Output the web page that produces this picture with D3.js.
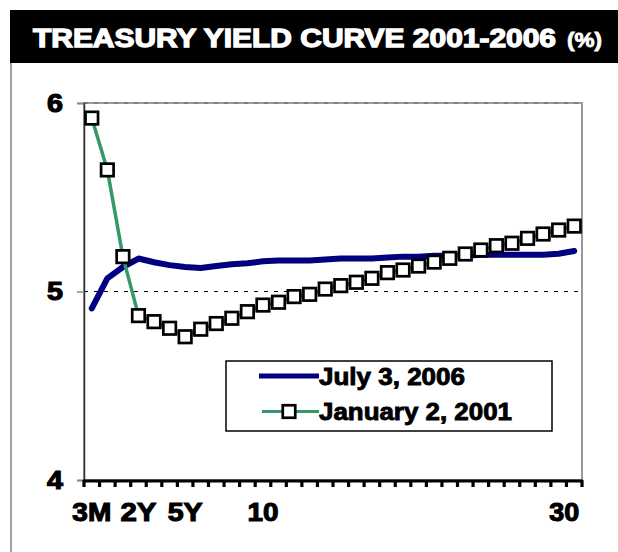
<!DOCTYPE html>
<html>
<head>
<meta charset="utf-8">
<script src="https://cdn.jsdelivr.net/npm/d3@7"></script>
<style>
  html, body { margin: 0; padding: 0; background: #fff; }
  svg { display: block; }
  text { font-family: "Liberation Sans", Arial, sans-serif; font-weight: bold; }
</style>
</head>
<body>
<svg id="chart" width="618" height="552"></svg>
<script>
// ---- data ----
const categories = ["3M","6M","1Y","2Y","3Y","4Y","5Y","6","7","8","9","10","11","12","13","14","15","16","17","18","19","20","21","22","23","24","25","26","27","28","29","30"];
const july2006 = [4.91,5.07,5.13,5.175,5.155,5.14,5.13,5.125,5.135,5.145,5.15,5.16,5.165,5.165,5.165,5.17,5.175,5.175,5.175,5.18,5.185,5.185,5.19,5.19,5.19,5.195,5.195,5.195,5.195,5.195,5.20,5.215];
const jan2001 = [5.92,5.645,5.185,4.872,4.84,4.805,4.76,4.80,4.83,4.858,4.893,4.928,4.943,4.973,4.985,5.013,5.031,5.049,5.07,5.10,5.114,5.135,5.156,5.176,5.199,5.22,5.243,5.256,5.282,5.305,5.326,5.347];
const xTickLabels = ["3M","2Y","5Y","10","30"];
const yTicks = [4,5,6];
const seriesNames = ["July 3, 2006","January 2, 2001"];
const titleText = "TREASURY YIELD CURVE 2001-2006";
const titleUnit = "(%)";

// ---- layout ----
const svg = d3.select("#chart");
const plot = {left: 84, right: 582, top: 103, bottom: 480};
const x = d3.scaleBand().domain(categories).range([plot.left, plot.right]).padding(0);
const y = d3.scaleLinear().domain([4, 6]).range([plot.bottom, plot.top]);
const cx = c => x(c) + x.bandwidth() / 2;

// outer frame
svg.append("line").attr("x1", 11).attr("x2", 11).attr("y1", 10).attr("y2", 552)
  .attr("stroke", "#808080").attr("stroke-width", 1.5);
// title bar
svg.append("rect").attr("x", 10).attr("y", 10).attr("width", 608).attr("height", 53).attr("fill", "#000");
svg.append("text").attr("x", 33).attr("y", 46.5).attr("fill", "#fff")
  .attr("font-size", 25.5).attr("stroke", "#fff").attr("stroke-width", 1.3)
  .attr("textLength", 523).attr("lengthAdjust", "spacingAndGlyphs").text(titleText);
svg.append("text").attr("x", 567).attr("y", 47).attr("fill", "#fff")
  .attr("font-size", 20).attr("stroke", "#fff").attr("stroke-width", 0.8)
  .attr("textLength", 35).attr("lengthAdjust", "spacingAndGlyphs").text(titleUnit);

// plot border
svg.append("rect").attr("x", plot.left).attr("y", plot.top)
  .attr("width", plot.right - plot.left).attr("height", plot.bottom - plot.top)
  .attr("fill", "none").attr("stroke", "#999").attr("stroke-width", 2);

// gridlines
svg.append("g").selectAll("line").data([5, 6]).join("line")
  .attr("x1", plot.left).attr("x2", plot.right)
  .attr("y1", d => y(d)).attr("y2", d => y(d))
  .attr("stroke", d => d === 5 ? "#000" : "#777").attr("stroke-width", d => d === 5 ? 1 : 1.5)
  .attr("stroke-dasharray", "4,6");

// y axis
const yAxis = svg.append("g").attr("transform", `translate(${plot.left},0)`)
  .call(d3.axisLeft(y).tickValues(yTicks).tickFormat(d3.format("d")).tickSize(7).tickPadding(14));
yAxis.select(".domain").attr("stroke", "#333").attr("stroke-width", 1.5);
yAxis.selectAll(".tick line").attr("stroke", "#888").attr("stroke-width", 1.5);
yAxis.selectAll(".tick text").attr("font-size", 25).attr("fill", "#000")
  .attr("font-family", "Liberation Sans, Arial, sans-serif").attr("font-weight", "bold")
  .attr("stroke", "#000").attr("stroke-width", 1.1)
  .attr("textLength", 16).attr("lengthAdjust", "spacingAndGlyphs");

// x axis: heavy base line with ticks at band boundaries
const boundaries = categories.map(c => x(c)).concat([x.range()[1]]);
const xg = svg.append("g");
xg.append("line").attr("x1", plot.left - 1).attr("x2", plot.right + 1)
  .attr("y1", plot.bottom + 1).attr("y2", plot.bottom + 1)
  .attr("stroke", "#000").attr("stroke-width", 3);
xg.selectAll("line.tk").data(boundaries).join("line").attr("class", "tk")
  .attr("x1", d => d).attr("x2", d => d)
  .attr("y1", plot.bottom).attr("y2", plot.bottom + 7)
  .attr("stroke", "#000").attr("stroke-width", 3.2);
const xAxis = svg.append("g").attr("transform", `translate(0,${plot.bottom})`)
  .call(d3.axisBottom(x).tickValues(xTickLabels).tickSize(0).tickPadding(23));
xAxis.select(".domain").remove();
xAxis.selectAll(".tick text").attr("font-size", 26).attr("fill", "#000")
  .attr("font-family", "Liberation Sans, Arial, sans-serif").attr("font-weight", "bold")
  .attr("stroke", "#000").attr("stroke-width", 1.1)
  .attr("dy", "0.71em")
  .attr("textLength", d => ({"3M": 39, "2Y": 36, "5Y": 35, "10": 31, "30": 30})[d])
  .attr("lengthAdjust", "spacingAndGlyphs")
  .filter(d => d === xTickLabels[xTickLabels.length - 1])
  .attr("text-anchor", "end").attr("dx", 5);

// series: July 3, 2006 (navy line)
const line = d3.line().x((d, i) => cx(categories[i])).y(d => y(d)).curve(d3.curveLinear);
svg.append("path").datum(july2006).attr("d", line)
  .attr("fill", "none").attr("stroke", "#000080").attr("stroke-width", 6)
  .attr("stroke-linejoin", "round").attr("stroke-linecap", "round");

// series: January 2, 2001 (green line with square markers)
svg.append("path").datum(jan2001).attr("d", line)
  .attr("fill", "none").attr("stroke", "#339966").attr("stroke-width", 3.5)
  .attr("stroke-linejoin", "round");
const ms = 12.5;
svg.append("g").selectAll("rect").data(jan2001).join("rect")
  .attr("x", (d, i) => cx(categories[i]) - ms / 2)
  .attr("y", d => y(d) - ms / 2)
  .attr("width", ms).attr("height", ms)
  .attr("fill", "#fff").attr("stroke", "#000").attr("stroke-width", 2.7);

// legend
const lg = svg.append("g");
lg.append("rect").attr("x", 226).attr("y", 361).attr("width", 326).attr("height", 70)
  .attr("fill", "#fff").attr("stroke", "#000").attr("stroke-width", 1.5);
lg.append("line").attr("x1", 259).attr("x2", 319).attr("y1", 376).attr("y2", 376)
  .attr("stroke", "#000080").attr("stroke-width", 5);
lg.append("line").attr("x1", 262).attr("x2", 319).attr("y1", 411.5).attr("y2", 411.5)
  .attr("stroke", "#339966").attr("stroke-width", 3);
lg.append("rect").attr("x", 289 - ms / 2).attr("y", 411.5 - ms / 2).attr("width", ms).attr("height", ms)
  .attr("fill", "#fff").attr("stroke", "#000").attr("stroke-width", 2.7);
const legendY = [385, 420];
const legendW = [146, 193];
lg.selectAll("text").data(seriesNames).join("text")
  .attr("x", 319).attr("y", (d, i) => legendY[i])
  .attr("font-size", 24).attr("fill", "#000").attr("stroke", "#000").attr("stroke-width", 0.9)
  .attr("textLength", (d, i) => legendW[i]).attr("lengthAdjust", "spacingAndGlyphs")
  .text(d => d);
</script>
</body>
</html>
